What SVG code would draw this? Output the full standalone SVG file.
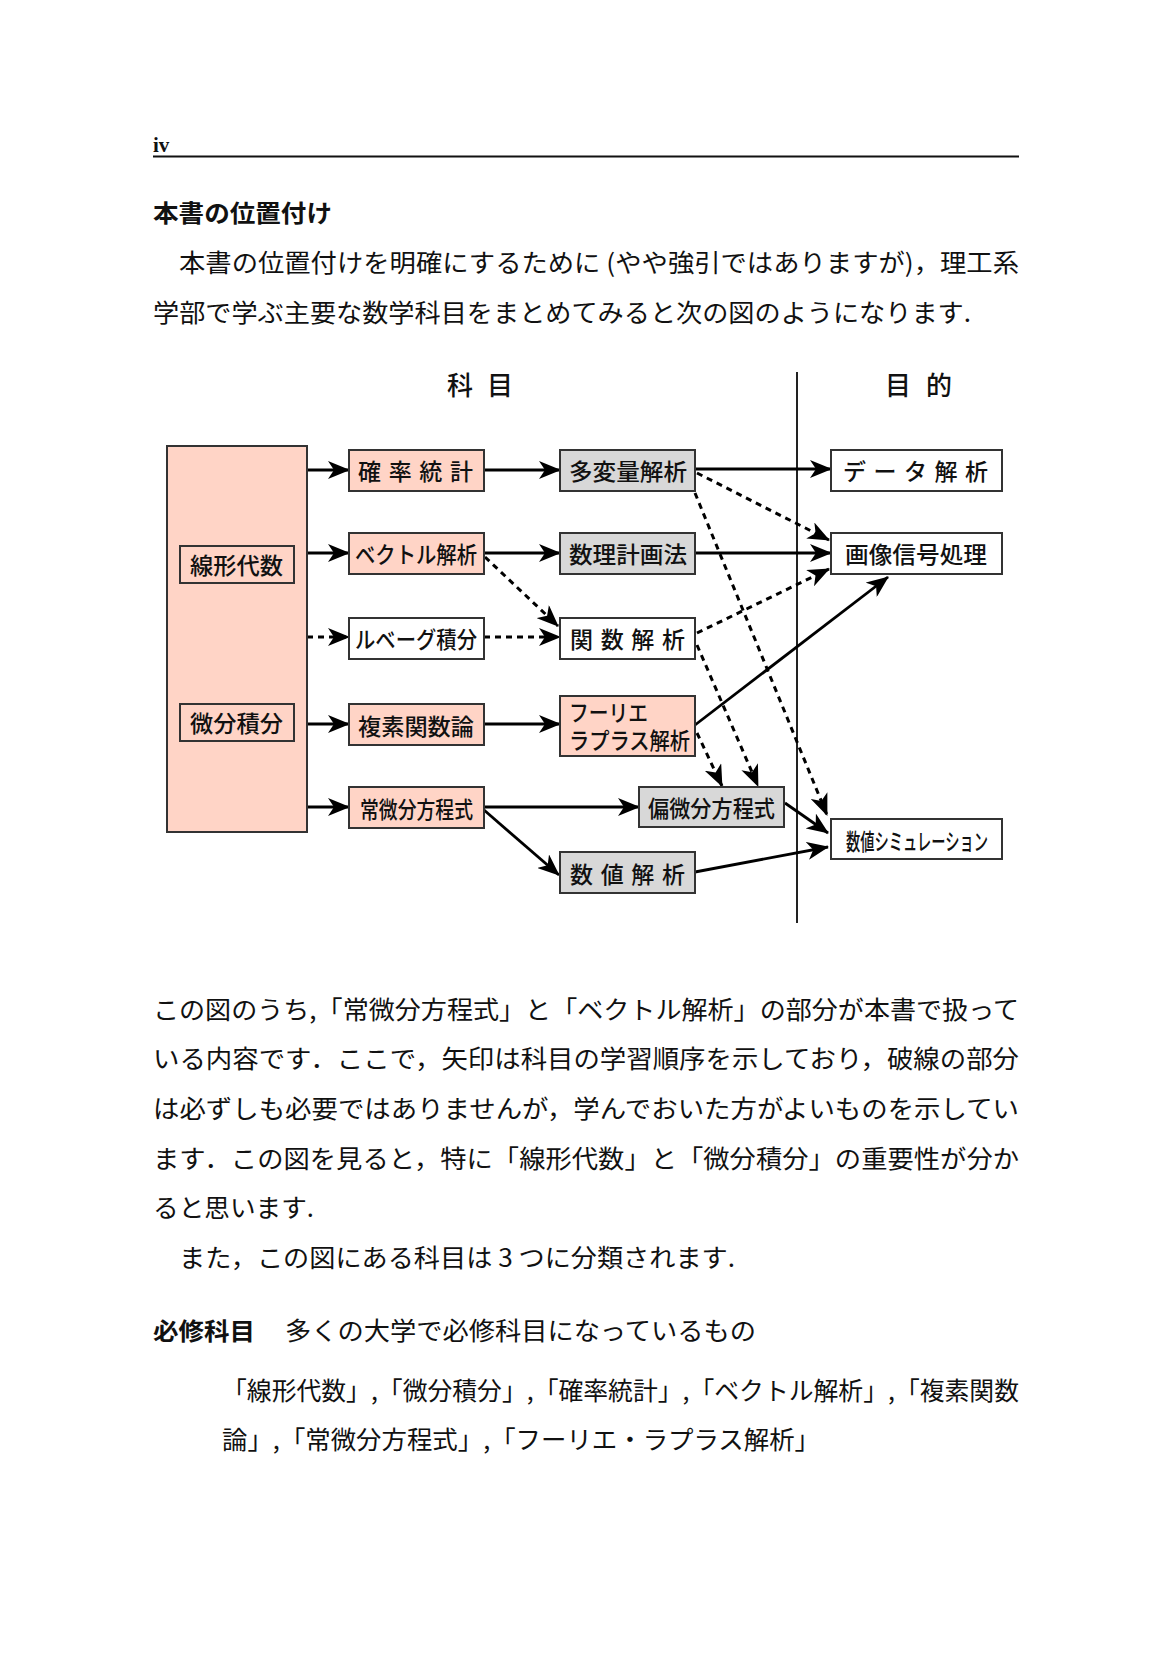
<svg xmlns="http://www.w3.org/2000/svg" width="1165" height="1654" viewBox="0 0 1165 1654">
<style>
.body{font-family:"Noto Sans CJK JP","Noto Sans CJK SC",sans-serif;font-size:25px;fill:#111;}
.bold{font-family:"Noto Sans CJK JP","Noto Sans CJK SC",sans-serif;font-size:24px;font-weight:bold;fill:#111;}
.lbl{font-family:"Noto Sans CJK JP","Noto Sans CJK SC",sans-serif;font-size:23px;font-weight:500;fill:#111;}
.title{font-family:"Noto Sans CJK JP","Noto Sans CJK SC",sans-serif;font-size:26px;font-weight:500;fill:#111;}
.pink{fill:#FFD4C6;stroke:#333;stroke-width:2;}
.gray{fill:#D8D8D8;stroke:#333;stroke-width:2;}
.white{fill:#fff;stroke:#333;stroke-width:2;}
.sol{stroke:#000;stroke-width:2.8;fill:none;marker-end:url(#ah);}
.dsh{stroke:#000;stroke-width:3;fill:none;stroke-dasharray:6 5;marker-end:url(#ah);}
</style>
<defs>
<marker id="ah" markerUnits="userSpaceOnUse" markerWidth="22" markerHeight="18" viewBox="0 0 22 18" refX="21" refY="9" orient="auto">
<path d="M0,0 L22,9 L0,18 L6,9 Z" fill="#000"/>
</marker>
</defs>
<rect width="1165" height="1654" fill="#fff"/>

<!-- page header -->
<text x="153" y="152" font-family="Liberation Serif" font-weight="bold" font-size="21" fill="#111">iv</text>
<line x1="153" y1="156.5" x2="1019" y2="156.5" stroke="#111" stroke-width="2"/>

<text class="bold" x="153" y="211" dominant-baseline="central" textLength="179" lengthAdjust="spacingAndGlyphs">本書の位置付け</text>
<text class="body" x="179" y="261" dominant-baseline="central" textLength="840" lengthAdjust="spacingAndGlyphs">本書の位置付けを明確にするために (やや強引ではありますが)，理工系</text>
<text class="body" x="153" y="311" dominant-baseline="central" textLength="818" lengthAdjust="spacingAndGlyphs">学部で学ぶ主要な数学科目をまとめてみると次の図のようになります.</text>

<!-- diagram -->
<text class="title" x="447" y="383" dominant-baseline="central" textLength="66" lengthAdjust="spacing">科 目</text>
<text class="title" x="885" y="383" dominant-baseline="central" textLength="67" lengthAdjust="spacing">目 的</text>
<line x1="797" y1="372" x2="797" y2="923" stroke="#222" stroke-width="2"/>

<g id="connectors">
<line class="sol" x1="307" y1="470" x2="349" y2="470"/>
<line class="sol" x1="307" y1="553" x2="349" y2="553"/>
<line class="dsh" x1="307" y1="637" x2="349" y2="637"/>
<line class="sol" x1="307" y1="724" x2="349" y2="724"/>
<line class="sol" x1="307" y1="807" x2="349" y2="807"/>
<line class="sol" x1="484" y1="470" x2="560" y2="470"/>
<line class="sol" x1="484" y1="553" x2="560" y2="553"/>
<line class="dsh" x1="484" y1="637" x2="560" y2="637"/>
<line class="dsh" x1="485" y1="557" x2="558" y2="626"/>
<line class="sol" x1="484" y1="724" x2="560" y2="724"/>
<line class="sol" x1="484" y1="807" x2="639" y2="807"/>
<line class="sol" x1="484" y1="810" x2="559" y2="875"/>
<line class="sol" x1="695" y1="469" x2="831" y2="469"/>
<line class="dsh" x1="697" y1="473" x2="829" y2="540"/>
<line class="dsh" x1="695" y1="493" x2="827" y2="815"/>
<line class="sol" x1="695" y1="553" x2="831" y2="553"/>
<line class="dsh" x1="697" y1="633" x2="829" y2="569"/>
<line class="sol" x1="695" y1="725" x2="888" y2="577"/>
<line class="dsh" x1="697" y1="645" x2="758" y2="786"/>
<line class="dsh" x1="697" y1="733" x2="722" y2="786"/>
<line class="sol" x1="785" y1="803" x2="828" y2="833"/>
<line class="sol" x1="695" y1="872" x2="828" y2="847"/>
</g>

<g id="calc-base">
<rect class="pink" x="167" y="446" width="140" height="386"/>
</g>
<g id="senkei">
<rect class="pink" x="180" y="546" width="114" height="37"/>
<text class="lbl" x="190" y="564" dominant-baseline="central" font-size="24" textLength="93" lengthAdjust="spacingAndGlyphs">線形代数</text>
</g>
<g id="bibun">
<rect class="pink" x="180" y="704" width="114" height="37"/>
<text class="lbl" x="190" y="722" dominant-baseline="central" font-size="24" textLength="93" lengthAdjust="spacingAndGlyphs">微分積分</text>
</g>
<g id="kakuritsu">
<rect class="pink" x="349" y="450" width="135" height="41"/>
<text class="lbl" x="358" y="470" dominant-baseline="central" textLength="115" lengthAdjust="spacing">確 率 統 計</text>
</g>
<g id="vector">
<rect class="pink" x="349" y="533" width="135" height="41"/>
<text class="lbl" x="355" y="553" dominant-baseline="central" textLength="122" lengthAdjust="spacingAndGlyphs">ベクトル解析</text>
</g>
<g id="lebesgue">
<rect class="white" x="349" y="618" width="135" height="41"/>
<text class="lbl" x="355" y="638" dominant-baseline="central" textLength="122" lengthAdjust="spacingAndGlyphs">ルベーグ積分</text>
</g>
<g id="fukuso">
<rect class="pink" x="349" y="704" width="135" height="41"/>
<text class="lbl" x="358" y="725" dominant-baseline="central" textLength="116" lengthAdjust="spacingAndGlyphs">複素関数論</text>
</g>
<g id="jobibun">
<rect class="pink" x="349" y="787" width="135" height="41"/>
<text class="lbl" x="360" y="808" dominant-baseline="central" textLength="113" lengthAdjust="spacingAndGlyphs">常微分方程式</text>
</g>
<g id="tahenryo">
<rect class="gray" x="560" y="450" width="135" height="41"/>
<text class="lbl" x="569" y="470" dominant-baseline="central" textLength="118" lengthAdjust="spacingAndGlyphs">多変量解析</text>
</g>
<g id="suri">
<rect class="gray" x="560" y="533" width="135" height="41"/>
<text class="lbl" x="569" y="553" dominant-baseline="central" textLength="118" lengthAdjust="spacingAndGlyphs">数理計画法</text>
</g>
<g id="kansu">
<rect class="white" x="560" y="618" width="135" height="41"/>
<text class="lbl" x="570" y="638" dominant-baseline="central" textLength="115" lengthAdjust="spacing">関 数 解 析</text>
</g>
<g id="fourier">
<rect class="pink" x="560" y="696" width="135" height="60"/>
<text class="lbl" font-size="21" dominant-baseline="central"><tspan x="569" y="711" textLength="79" lengthAdjust="spacingAndGlyphs">フーリエ</tspan><tspan x="569" y="739" textLength="121" lengthAdjust="spacingAndGlyphs">ラプラス解析</tspan></text>
</g>
<g id="henbibun">
<rect class="gray" x="639" y="787" width="145" height="40"/>
<text class="lbl" x="648" y="807" dominant-baseline="central" textLength="127" lengthAdjust="spacingAndGlyphs">偏微分方程式</text>
</g>
<g id="suchi">
<rect class="gray" x="560" y="852" width="135" height="41"/>
<text class="lbl" x="570" y="873" dominant-baseline="central" textLength="115" lengthAdjust="spacing">数 値 解 析</text>
</g>
<g id="data">
<rect class="white" x="831" y="450" width="171" height="41"/>
<text class="lbl" x="843" y="470" dominant-baseline="central" textLength="145" lengthAdjust="spacing">デ ー タ 解 析</text>
</g>
<g id="gazo">
<rect class="white" x="831" y="533" width="171" height="41"/>
<text class="lbl" x="845" y="553" dominant-baseline="central" textLength="142" lengthAdjust="spacingAndGlyphs">画像信号処理</text>
</g>
<g id="simulation">
<rect class="white" x="831" y="819" width="171" height="40"/>
<text class="lbl" x="846" y="840" dominant-baseline="central" font-size="21" textLength="142" lengthAdjust="spacingAndGlyphs">数値シミュレーション</text>
</g>

<!-- body text after diagram -->
<text class="body" x="153" y="1008" dominant-baseline="central" textLength="866" lengthAdjust="spacingAndGlyphs">この図のうち,「常微分方程式」と「ベクトル解析」の部分が本書で扱って</text>
<text class="body" x="153" y="1057" dominant-baseline="central" textLength="866" lengthAdjust="spacingAndGlyphs">いる内容です．ここで，矢印は科目の学習順序を示しており，破線の部分</text>
<text class="body" x="153" y="1107" dominant-baseline="central" textLength="866" lengthAdjust="spacingAndGlyphs">は必ずしも必要ではありませんが，学んでおいた方がよいものを示してい</text>
<text class="body" x="153" y="1157" dominant-baseline="central" textLength="866" lengthAdjust="spacingAndGlyphs">ます．この図を見ると，特に「線形代数」と「微分積分」の重要性が分か</text>
<text class="body" x="153" y="1206" dominant-baseline="central" textLength="161" lengthAdjust="spacingAndGlyphs">ると思います.</text>
<text class="body" x="179" y="1256" dominant-baseline="central" textLength="556" lengthAdjust="spacingAndGlyphs">また，この図にある科目は 3 つに分類されます.</text>
<text class="bold" x="153" y="1329" dominant-baseline="central" textLength="102" lengthAdjust="spacingAndGlyphs">必修科目</text>
<text class="body" x="285" y="1329" dominant-baseline="central" textLength="471" lengthAdjust="spacingAndGlyphs">多くの大学で必修科目になっているもの</text>
<text class="body" x="222" y="1389" dominant-baseline="central" textLength="797" lengthAdjust="spacingAndGlyphs">「線形代数」,「微分積分」,「確率統計」,「ベクトル解析」,「複素関数</text>
<text class="body" x="222" y="1438" dominant-baseline="central" textLength="598" lengthAdjust="spacingAndGlyphs">論」,「常微分方程式」,「フーリエ・ラプラス解析」</text>
</svg>
